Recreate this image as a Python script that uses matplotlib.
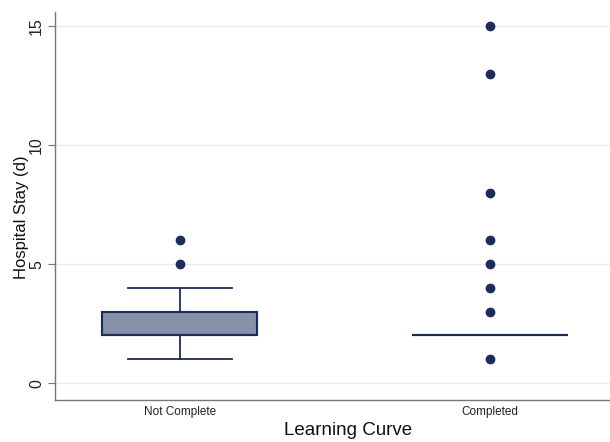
import matplotlib
matplotlib.use("Agg")
import matplotlib.pyplot as plt

plt.rcParams["font.family"] = ["Liberation Sans", "DejaVu Sans"]

# values
groups = ["Not Complete", "Completed"]
q1 = [2, 2]
medians = [2, 2]
q3 = [3, 2]
whisk_lo = [1, 2]
whisk_hi = [4, 2]
outliers = [[5, 6], [1, 3, 4, 5, 6, 8, 13, 15]]
yticks = [0, 5, 10, 15]

navy = "#1a2c5b"
fill = "#8690a8"

stats = []
for i, g in enumerate(groups):
    stats.append(dict(label=g, q1=q1[i], med=medians[i], q3=q3[i],
                      whislo=whisk_lo[i], whishi=whisk_hi[i],
                      fliers=outliers[i]))

fig = plt.figure(figsize=(6.1, 4.42), dpi=100)
ax = fig.add_axes([55 / 610, 42 / 442, 555 / 610, 388 / 442])

ax.bxp(stats, positions=[1, 2], widths=0.5, patch_artist=True,
       boxprops=dict(facecolor=fill, edgecolor=navy, linewidth=1.5),
       medianprops=dict(color=navy, linewidth=1.5),
       whiskerprops=dict(color=navy, linewidth=1.3),
       capprops=dict(color=navy, linewidth=1.3),
       capwidths=0.335,
       flierprops=dict(marker="o", markerfacecolor=navy,
                       markeredgecolor=navy, markersize=6))

ax.set_xlim(0.597, 2.387)
ax.set_ylim(-0.71, 15.59)
ax.set_yticks(yticks)
ax.set_yticklabels([str(t) for t in yticks], rotation=90, va="center",
                   fontsize=11.5, color="#222222")
ax.set_xticks([1, 2])
ax.set_xticklabels(groups, fontsize=8.5, color="#222222")
ax.tick_params(axis="x", length=0, pad=4)
ax.tick_params(axis="y", length=5, color="#777777", pad=3)

ax.grid(axis="y", color="#e6ecf0", linewidth=1.0)
ax.set_axisbelow(True)
for s in ["top", "right"]:
    ax.spines[s].set_visible(False)
for s in ["left", "bottom"]:
    ax.spines[s].set_color("#777777")
    ax.spines[s].set_linewidth(1.0)

ax.set_xlabel("Learning Curve", fontsize=13.5, color="#111111", labelpad=3)
ax.xaxis.label.set_x(0.528)
ax.set_ylabel("Hospital Stay (d)", fontsize=12, color="#111111", labelpad=0)
ax.yaxis.label.set_y(0.47)

fig.savefig("out.png", dpi=100, facecolor="white")
